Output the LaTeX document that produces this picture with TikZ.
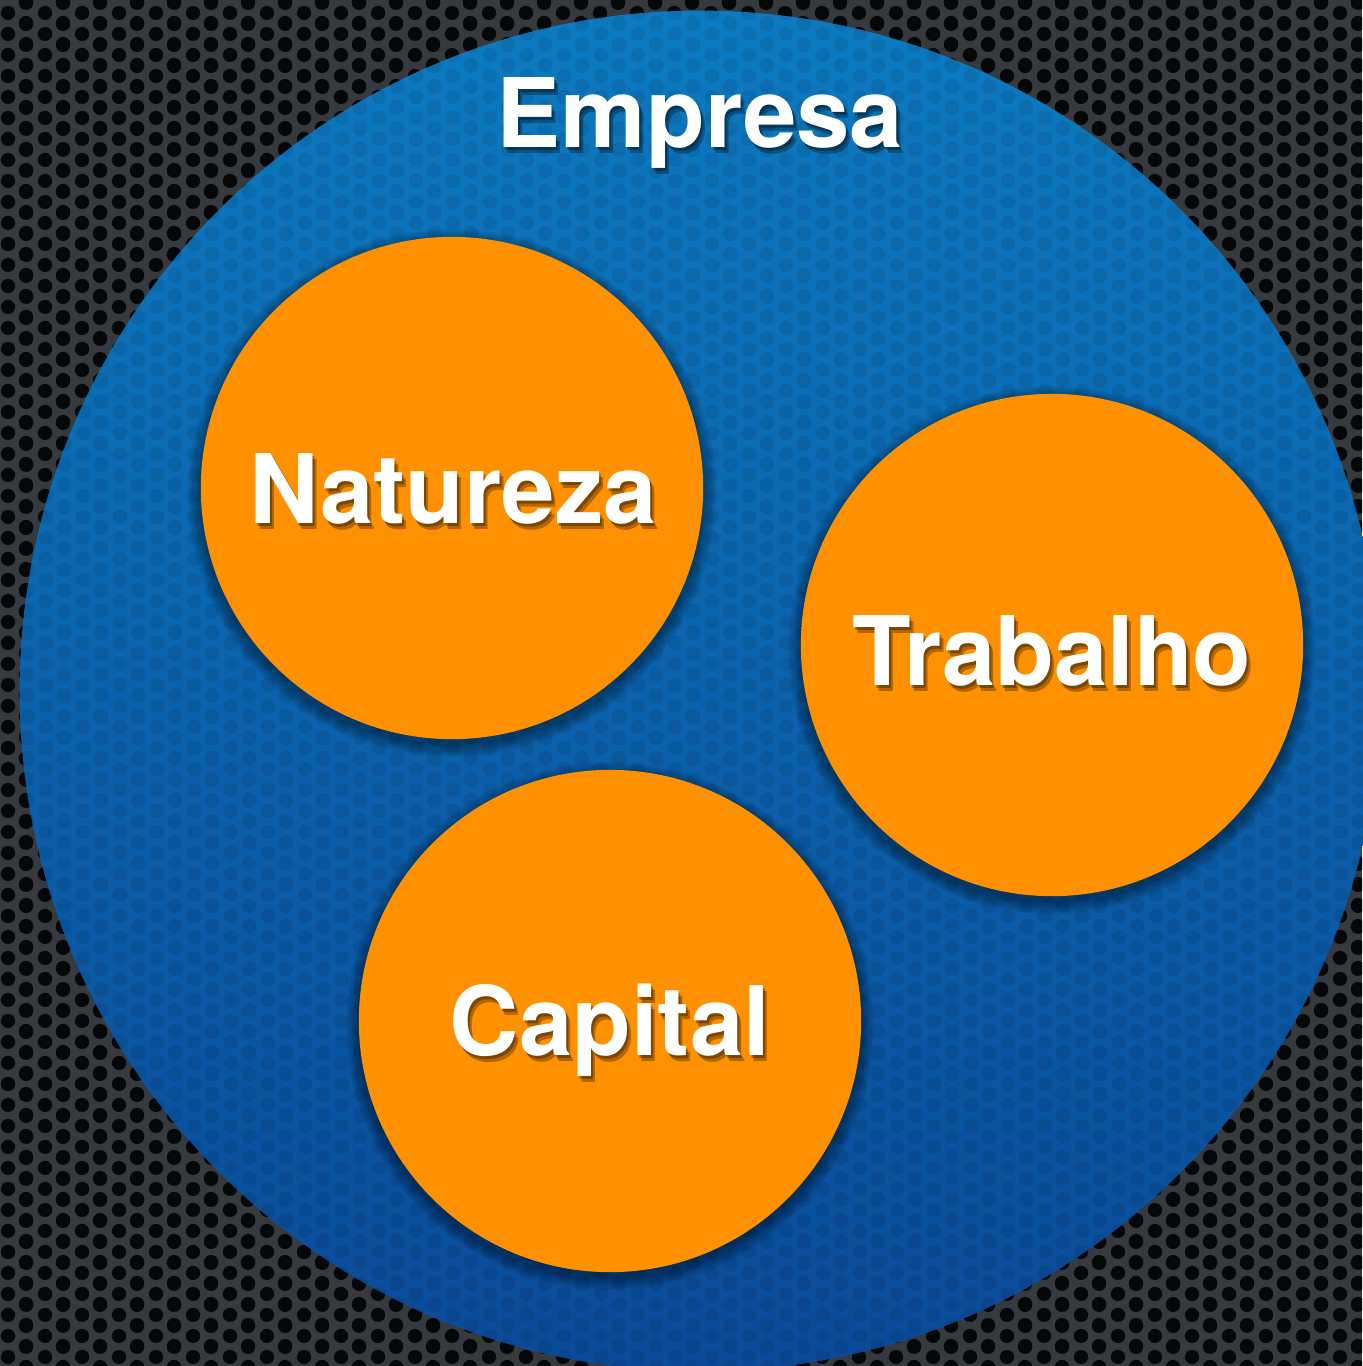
\documentclass[tikz,border=0pt]{standalone}
\usepackage{fontspec}
\usetikzlibrary{patterns}
\setmainfont{TeX Gyre Heros}
\definecolor{mesh}{RGB}{54,58,62}
\definecolor{hole}{RGB}{6,7,8}
\definecolor{bluetop}{RGB}{12,122,192}
\definecolor{bluebot}{RGB}{10,74,152}
\definecolor{orng}{RGB}{255,145,0}
\pgfdeclarepatternformonly{hexholes}{\pgfpointorigin}{\pgfpoint{0.37cm}{0.21cm}}{\pgfpoint{0.37cm}{0.21cm}}{%
  \pgfpathcircle{\pgfpoint{0.0925cm}{0.105cm}}{0.074cm}%
  \pgfpathcircle{\pgfpoint{0.2775cm}{0cm}}{0.074cm}%
  \pgfpathcircle{\pgfpoint{0.2775cm}{0.21cm}}{0.074cm}%
  \pgfusepath{fill}}
\tikzset{
  ball/.style={circle, fill=orng, minimum size=5.02cm, inner sep=0pt},
  lbl/.style={text=white, font=\fontsize{27.3}{32}\selectfont\bfseries, anchor=base, inner sep=0pt},
  lblshadow/.style={text=black, text opacity=0.3, font=\fontsize{27.3}{32}\selectfont\bfseries, anchor=base, inner sep=0pt},
}
\newcommand\shadowtext[3]{%
  \foreach \dx/\dy in {2/-3,4/-6}
    \node[lblshadow] at ([xshift=\dx*0.01cm,yshift=\dy*0.01cm]#2) {#3};
  \node[lbl] (#1) at (#2) {#3};}
\begin{document}
\begin{tikzpicture}[x=0.01cm,y=-0.01cm]
\useasboundingbox (0,0) rectangle (1362,1366);
% textured background
\fill[mesh] (0,0) rectangle (1362,1366);
\fill[pattern=hexholes, pattern color=hole] (0,0) rectangle (1362,1366);
% big blue circle
\coordinate (ec) at (700,691);
\shade[top color=bluetop, bottom color=bluebot] (ec) circle[radius=6.8cm];
\fill[pattern=hexholes, pattern color=black, fill opacity=0.08] (ec) circle[radius=6.8cm];
% centres of the orange circles
\coordinate (cn) at (452,488);
\coordinate (ct) at (1052,645);
\coordinate (cc) at (610,1021);
% soft shadows
\foreach \c in {cn,ct,cc}
  \foreach \k in {1,...,8}
    \fill[black, opacity=0.05] ([yshift=-0.05cm]\c) circle[radius={2.51cm+\k*0.016cm}];
\node[ball] (nat) at (cn) {};
\node[ball] (trab) at (ct) {};
\node[ball] (cap) at (cc) {};
% labels
\coordinate (pe) at (700,147);
\coordinate (pn) at (453,523);
\coordinate (pt) at (1052,685);
\coordinate (pc) at (610,1055);
\shadowtext{emp}{pe}{Empresa}
\shadowtext{natl}{pn}{Natureza}
\shadowtext{trabl}{pt}{Trabalho}
\shadowtext{capl}{pc}{Capital}
\end{tikzpicture}
\end{document}
